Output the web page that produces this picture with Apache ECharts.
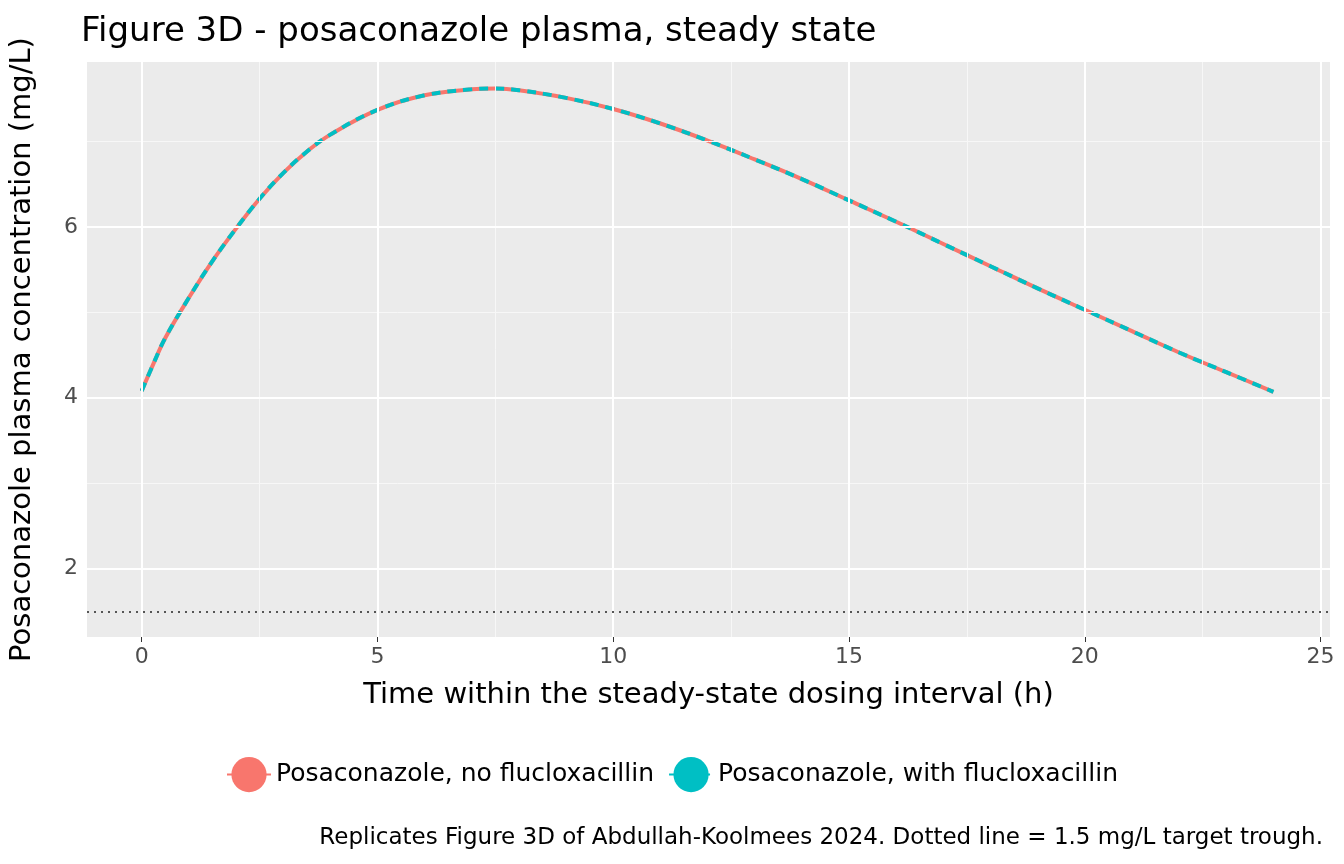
<!DOCTYPE html>
<html lang="en">
<head>
<meta charset="utf-8">
<title>Figure 3D</title>
<script src="https://cdn.jsdelivr.net/npm/echarts@6/dist/echarts.min.js"></script>
</head>
<body style="margin:0;background:#fff">
<div id="main" style="width:1344px;height:864px;"></div>
<script type="text/javascript">
// hours within the dosing interval
var hours = [0, 0.25, 0.5, 1, 1.5, 2, 2.5, 3, 3.5, 4, 5, 6, 7, 7.5, 8, 9, 10, 11, 12, 13, 14, 15, 16, 17, 18, 19, 20, 21, 22, 23, 24];
// concentration (mg/L) - both curves coincide
var noFluclox = [4.08, 4.4, 4.7, 5.17, 5.6, 5.98, 6.33, 6.63, 6.88, 7.08, 7.37, 7.54, 7.61, 7.62, 7.6, 7.51, 7.38, 7.21, 7.01, 6.79, 6.56, 6.31, 6.06, 5.8, 5.54, 5.28, 5.03, 4.78, 4.53, 4.3, 4.07];
var withFluclox = noFluclox.slice();
var xMajor = [0, 5, 10, 15, 20, 25];
var xMinor = [2.5, 7.5, 12.5, 17.5, 22.5];
var yMajor = [2, 4, 6];
var yMinor = [3, 5, 7];
var target = 1.5;

var pairs = function (ys) {
    return hours.map(function (h, i) { return [h, ys[i]]; });
};

var gridLines = [];
xMinor.forEach(function (v) { gridLines.push({ xAxis: v, lineStyle: { color: '#f7f7f7', width: 1, type: 'solid' } }); });
yMinor.forEach(function (v) { gridLines.push({ yAxis: v, lineStyle: { color: '#f7f7f7', width: 1, type: 'solid' } }); });
xMajor.forEach(function (v) { gridLines.push({ xAxis: v, lineStyle: { color: '#fff', width: 2, type: 'solid' } }); });
yMajor.forEach(function (v) { gridLines.push({ yAxis: v, lineStyle: { color: '#fff', width: 2, type: 'solid' } }); });
gridLines.push({ yAxis: target, lineStyle: { color: '#555', width: 2, type: [2, 5] } });

var myChart = echarts.init(document.getElementById('main'));
var font = 'DejaVu Sans';
myChart.setOption({
    animation: false,
    textStyle: { fontFamily: font },
    title: [{
        text: 'Figure 3D - posaconazole plasma, steady state',
        left: 76, top: 10,
        textStyle: { fontSize: 34, fontWeight: 'normal', color: '#000', fontFamily: font }
    }, {
        text: 'Replicates Figure 3D of Abdullah-Koolmees 2024. Dotted line = 1.5 mg/L target trough.',
        right: 16, top: 822,
        textStyle: { fontSize: 23, fontWeight: 'normal', color: '#000', fontFamily: font }
    }],
    grid: { left: 78, right: 14, top: 62, bottom: 227, show: true, backgroundColor: '#ebebeb', borderWidth: 0 },
    legend: {
        top: 752, left: 'center',
        itemWidth: 44, itemHeight: 44, itemGap: 14,
        textStyle: { fontSize: 25, color: '#000' },
        data: [
            { name: 'Posaconazole, no flucloxacillin' },
            { name: 'Posaconazole, with flucloxacillin' }
        ]
    },
    xAxis: {
        type: 'value', min: -1.16, max: 25.2,
        name: 'Time within the steady-state dosing interval (h)',
        nameLocation: 'middle', nameGap: 44,
        nameTextStyle: { fontSize: 29, color: '#000' },
        axisLine: { show: false },
        axisTick: { show: true, customValues: xMajor, length: 5, lineStyle: { color: '#333' } },
        axisLabel: { customValues: xMajor, fontSize: 22, color: '#4d4d4d', margin: 9 },
        splitLine: { show: false }
    },
    yAxis: {
        type: 'value', min: 1.2, max: 7.93,
        name: 'Posaconazole plasma concentration (mg/L)',
        nameLocation: 'middle', nameGap: 50, nameRotate: 90,
        nameTextStyle: { fontSize: 29, color: '#000' },
        axisLine: { show: false },
        axisTick: { show: true, customValues: yMajor, length: 5, lineStyle: { color: '#333' } },
        axisLabel: { customValues: yMajor, fontSize: 22, color: '#4d4d4d', margin: 9 },
        splitLine: { show: false }
    },
    series: [{
        name: 'grid', type: 'line', data: [], silent: true,
        markLine: { silent: true, symbol: 'none', label: { show: false }, data: gridLines }
    }, {
        name: 'Posaconazole, no flucloxacillin', type: 'line', data: pairs(noFluclox),
        smooth: 0.4, symbol: 'none', itemStyle: { color: '#F8766D' },
        lineStyle: { color: '#F8766D', width: 4 }
    }, {
        name: 'Posaconazole, with flucloxacillin', type: 'line', data: pairs(withFluclox),
        smooth: 0.4, symbol: 'none', itemStyle: { color: '#00BFC4' },
        lineStyle: { color: '#00BFC4', width: 4, type: [9, 7] }
    }]
});
</script>
</body>
</html>
